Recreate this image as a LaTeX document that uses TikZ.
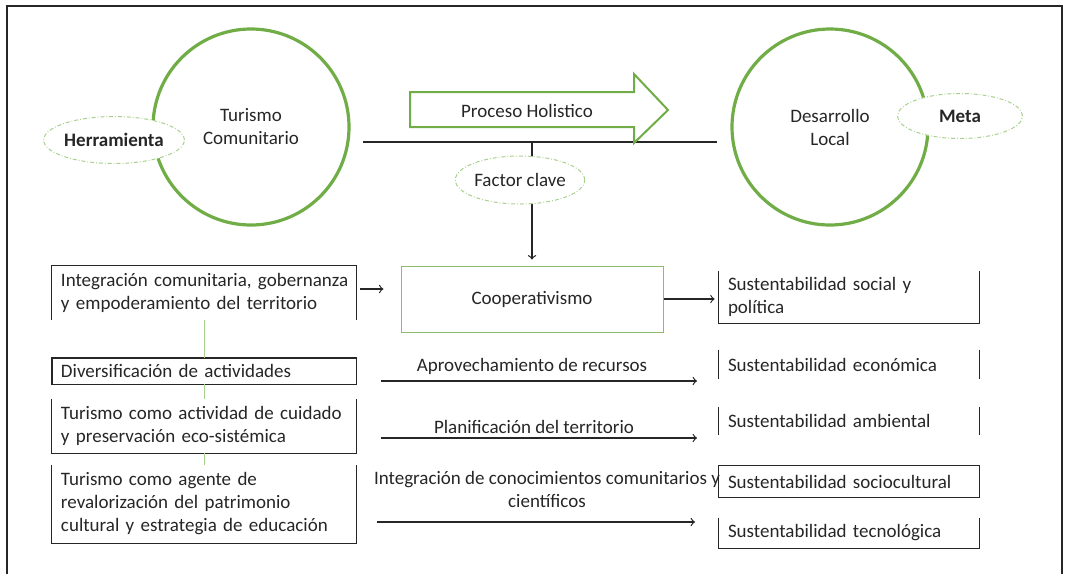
\documentclass[tikz,border=0pt]{standalone}
\usepackage{fontspec}
\setmainfont{Carlito}
\usetikzlibrary{shapes.geometric}
\definecolor{verde}{HTML}{70AD47}
\definecolor{verdeclaro}{HTML}{A9D18E}
\definecolor{tinta}{HTML}{262626}

\begin{document}
\begin{tikzpicture}[x=0.5pt,y=-0.5pt,
  every node/.style={font=\fontsize{9.5}{11.5}\selectfont,text=tinta},
  circulo/.style={circle,draw=verde,line width=1.6pt,minimum size=98pt,align=center,inner sep=0pt},
  globo/.style={ellipse,draw=verdeclaro,fill=white,line width=0.5pt,dash pattern=on 2pt off 1pt on 0.4pt off 1pt,inner sep=0pt},
  caja/.style={inner xsep=4.5pt,inner ysep=0pt,align=left},
  izq/.style={caja,text width=143pt},
  der/.style={caja,text width=121pt},
  linea/.style={draw=tinta,line width=0.6pt},
  flecha/.style={linea,->}]
\useasboundingbox (0,0) rectangle (1065,574);
\draw[linea] (7,574) -- (7,6) -- (1062,6) -- (1062,574);

\node[circulo] (turismo) at (251,127) {Turismo\\Comunitario};
\node[globo,minimum width=62.5pt,minimum height=23.5pt] (herramienta) at (114,140) {\bfseries Herramienta};
\node[circulo] (desarrollo) at (830,127) {Desarrollo\\Local};
\node[globo,minimum width=62.5pt,minimum height=22.5pt] (meta) at (960,116) {\bfseries Meta};

\coordinate (hizq) at (363,142);
\coordinate (hder) at (717,142);
\coordinate (cruce) at (532,142);
\draw[linea] (hizq) -- (hder);
\draw[draw=verde,line width=1pt,fill=white] (410,92) -- (634,92) -- (634,74) -- (668,110) -- (634,143) -- (634,127) -- (410,127) -- cycle;
\node (proceso) at (527,111) {Proceso Holistico};

\node[draw=verde!80,line width=0.5pt,minimum width=131pt,minimum height=33pt] (coop) at (532,299) {Cooperativismo};
\draw[flecha,shorten >=3pt] (cruce) -- (coop.north);
\node[globo,minimum width=63pt,minimum height=24pt] (factor) at (520,180) {Factor clave};

\node[izq,minimum height=27pt] (integ) at (204,293) {\mbox{Integración comunitaria, gobernanza}\\y empoderamiento del territorio};
\node[izq,minimum height=13pt] (divers) at (204,371) {Diversificación de actividades};
\node[izq,minimum height=27pt] (turcuid) at (204,426) {\mbox{Turismo como actividad de cuidado}\\y preservación eco-sistémica};
\node[izq,minimum height=39pt] (turpat) at (204,504) {Turismo como agente de\\revalorización del patrimonio\\\mbox{cultural y estrategia de educación}};
\draw[linea] (integ.south west) |- (integ.north east) -- (integ.south east);
\draw[linea,line width=0.9pt] (divers.south west) rectangle (divers.north east);
\draw[linea] (turcuid.north west) |- (turcuid.south east) -- (turcuid.north east);
\draw[linea] (turpat.north west) |- (turpat.south east) -- (turpat.north east);
\draw[draw=verdeclaro,line width=0.5pt] (integ.south) -- (divers.north) (divers.south) -- (turcuid.north) (turcuid.south) -- (turpat.north);

\node[der,minimum height=26pt] (social) at (849,297) {Sustentabilidad social y\\política};
\node[der,minimum height=14.5pt] (econ) at (849,364.5) {Sustentabilidad económica};
\node[der,minimum height=14pt] (amb) at (849,421) {Sustentabilidad ambiental};
\node[der,minimum height=15.5pt] (socio) at (849,481.5) {Sustentabilidad sociocultural};
\node[der,minimum height=15pt] (tec) at (849,533) {Sustentabilidad tecnológica};
\draw[linea] (social.north west) |- (social.south east) -- (social.north east);
\draw[linea] (econ.north west) -- (econ.south west) (econ.north east) -- (econ.south east);
\draw[linea] (amb.north west) -- (amb.south west) (amb.north east) -- (amb.south east);
\draw[linea] (socio.south west) rectangle (socio.north east);
\draw[linea] (tec.north west) |- (tec.south east) -- (tec.north east);

\coordinate (salida) at ([yshift=2pt]integ.east);
\draw[flecha] ([xshift=2pt]salida) -- ([xshift=13.5pt]salida);
\draw[flecha,shorten >=2pt] (coop.east) -- (coop.east -| social.west);

\coordinate (a1) at (381,381);
\coordinate (b1) at (697,381);
\draw[flecha] (a1) -- (b1);
\node (aprov) at (532,366) {Aprovechamiento de recursos};
\coordinate (a2) at (381,438);
\coordinate (b2) at (697,438);
\draw[flecha] (a2) -- (b2);
\node (planif) at (534,427) {Planificación del territorio};
\coordinate (a3) at (377,522);
\coordinate (b3) at (695,522);
\draw[flecha] (a3) -- (b3);
\node[align=center] (conoc) at (547,489) {Integración de conocimientos comunitarios y\\científicos};
\end{tikzpicture}
\end{document}
